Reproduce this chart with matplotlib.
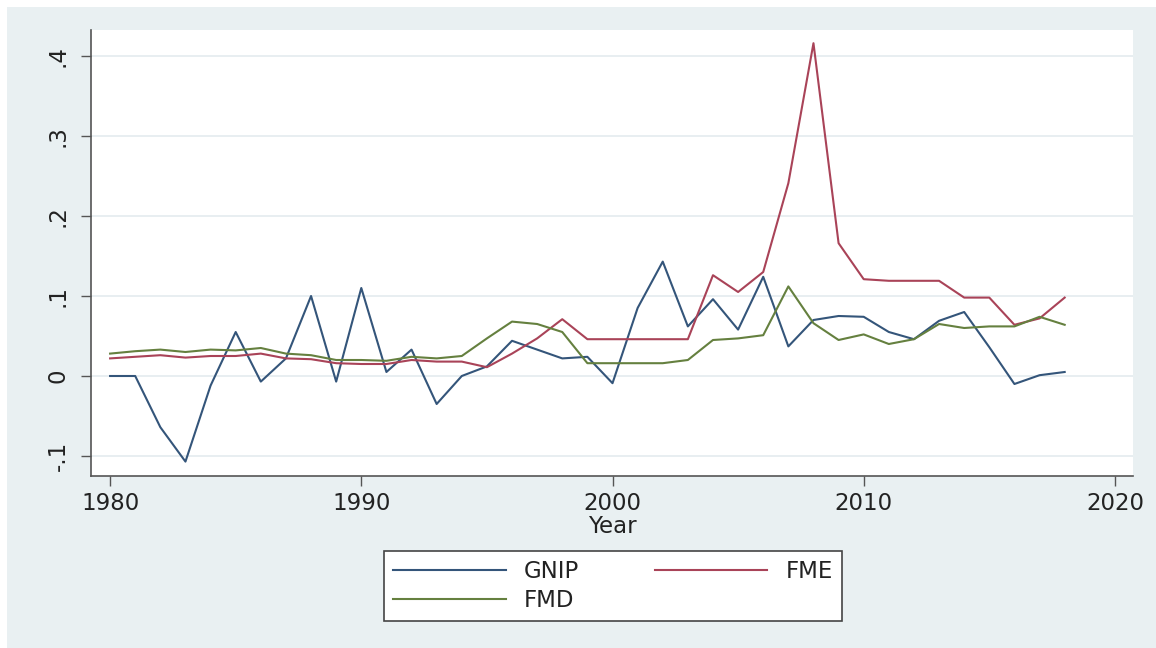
import matplotlib
matplotlib.use("Agg")
import matplotlib.pyplot as plt
from matplotlib.patches import Rectangle

years = list(range(1980, 2019))

gnip = [0.000, 0.000, -0.064, -0.107, -0.012, 0.055, -0.007, 0.022, 0.100, -0.007,
        0.110, 0.005, 0.033, -0.035, 0.000, 0.012, 0.044, 0.033, 0.022, 0.024,
        -0.009, 0.085, 0.143, 0.062, 0.096, 0.058, 0.124, 0.037, 0.070, 0.075,
        0.074, 0.055, 0.046, 0.069, 0.080, 0.036, -0.010, 0.001, 0.005]

fme = [0.022, 0.024, 0.026, 0.023, 0.025, 0.025, 0.028, 0.022, 0.021, 0.016,
       0.015, 0.015, 0.020, 0.018, 0.018, 0.011, 0.028, 0.047, 0.071, 0.046,
       0.046, 0.046, 0.046, 0.046, 0.126, 0.105, 0.130, 0.241, 0.416, 0.166,
       0.121, 0.119, 0.119, 0.119, 0.098, 0.098, 0.064, 0.072, 0.098]

fmd = [0.028, 0.031, 0.033, 0.030, 0.033, 0.032, 0.035, 0.028, 0.026, 0.020,
       0.020, 0.019, 0.024, 0.022, 0.025, 0.047, 0.068, 0.065, 0.055, 0.016,
       0.016, 0.016, 0.016, 0.020, 0.045, 0.047, 0.051, 0.112, 0.066, 0.045,
       0.052, 0.040, 0.046, 0.065, 0.060, 0.062, 0.062, 0.074, 0.064]

series_names = ["GNIP", "FME", "FMD"]
series_colors = ["#34557a", "#a94358", "#65803f"]

x_ticks = [1980, 1990, 2000, 2010, 2020]
y_ticks = [-0.1, 0.0, 0.1, 0.2, 0.3, 0.4]
y_tick_labels = ["-.1", "0", ".1", ".2", ".3", ".4"]

plt.rcParams["font.family"] = ["DejaVu Sans"]
FS = 16.5
W, H = 1156, 648

fig = plt.figure(figsize=(W / 100, H / 100), dpi=100)
fig.patch.set_facecolor("white")
fig.patches.append(Rectangle((7 / W, 0), 1 - 7 / W, 1 - 7 / H,
                             transform=fig.transFigure, facecolor="#e9f0f2",
                             edgecolor="none", zorder=-10))

ax = fig.add_axes([91 / W, (H - 476) / H, (1133 - 91) / W, (476 - 30) / H])
ax.set_facecolor("white")

lines = {}
for vals, name, col in zip([gnip, fme, fmd], series_names, series_colors):
    ln, = ax.plot(years, vals, color=col, lw=1.5, label=name, zorder=3)
    lines[name] = ln

ax.set_xlim(1979.24, 2020.72)
ax.set_ylim(-0.125, 0.4325)
ax.set_xticks(x_ticks)
ax.set_yticks(y_ticks)
ax.set_yticklabels(y_tick_labels, rotation=90, va="center")

for y in y_ticks:
    ax.axhline(y, color="#e6edf0", lw=1.3, zorder=1)

for side in ("top", "right"):
    ax.spines[side].set_visible(False)
for side in ("left", "bottom"):
    ax.spines[side].set_color("#555555")
    ax.spines[side].set_linewidth(1.2)

ax.tick_params(axis="both", direction="out", length=7.5, width=1.0,
               color="#555555", labelsize=FS, labelcolor="#222222")
ax.tick_params(axis="x", pad=4)
ax.tick_params(axis="y", pad=8)

ax.set_xlabel("Year", fontsize=FS, color="#222222", labelpad=0)

# legend filled column by column: GNIP/FMD in the first column, FME in the second
order = ["GNIP", "FMD", "FME"]
leg = fig.legend([lines[n] for n in order], order, ncol=2, loc="center",
                 bbox_to_anchor=(613 / W, 1 - 586 / H),
                 fontsize=FS, frameon=True, fancybox=False, framealpha=1,
                 handlelength=4.9, handletextpad=0.8, columnspacing=3.3,
                 labelspacing=0.25, borderpad=0.42, borderaxespad=0)
leg.get_frame().set_edgecolor("#444444")
leg.get_frame().set_linewidth(1.2)
leg.get_frame().set_facecolor("white")
for t in leg.get_texts():
    t.set_color("#222222")

fig.savefig("out.png", dpi=100, facecolor=fig.get_facecolor())
